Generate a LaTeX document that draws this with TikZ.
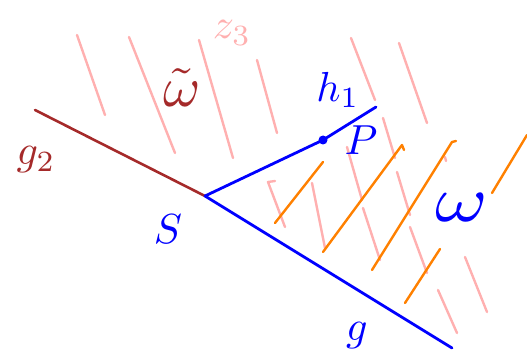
\documentclass[tikz,border=0pt]{standalone}
\begin{document}
\begin{tikzpicture}[x=1pt,y=-1pt,
  brn/.style={draw=brownred,line width=2.6pt,line cap=round,line join=round},
  blu/.style={draw=blue,line width=2.8pt,line cap=round,line join=round},
  pnk/.style={draw=pinkh,line width=2.4pt,line cap=round,line join=round},
  org/.style={draw=orangeh,line width=2.4pt,line cap=round,line join=round},
  lbl/.style={inner sep=0pt,scale=4.2,transform shape}]
\definecolor{brownred}{HTML}{A52A2A}
\definecolor{pinkh}{HTML}{FFB0B0}
\definecolor{orangeh}{HTML}{FF8000}
\useasboundingbox (0,0) rectangle (527,355);
% pink hatching
\coordinate (p1a) at (77,35);   \coordinate (p1b) at (105,115);
\coordinate (p2a) at (129,37);  \coordinate (p2b) at (175,153);
\coordinate (p3a) at (199,40);  \coordinate (p3b) at (233,158);
\coordinate (p4a) at (257,60);  \coordinate (p4b) at (277,133);
\coordinate (p5a) at (351,38);  \coordinate (p5b) at (375,100);
\coordinate (p6a) at (399,43);  \coordinate (p6b) at (427,123);
\coordinate (p7h) at (275,181); \coordinate (p7a) at (268,182); \coordinate (p7b) at (285,227);
\coordinate (p8a) at (312,183); \coordinate (p8b) at (325,248);
\coordinate (p9a) at (347,147); \coordinate (p9b) at (362,200);
\coordinate (p10a) at (363,208); \coordinate (p10b) at (380,260);
\coordinate (p11a) at (383,118); \coordinate (p11b) at (395,158);
\coordinate (p12a) at (397,172); \coordinate (p12b) at (410,215);
\coordinate (p13a) at (410,227); \coordinate (p13b) at (427,273);
\coordinate (p14a) at (438,290); \coordinate (p14b) at (457,333);
\coordinate (p15a) at (465,257); \coordinate (p15b) at (487,312);
\coordinate (p16a) at (445,157); \coordinate (p16b) at (446,161);
\draw[pnk] (p1a) -- (p1b);
\draw[pnk] (p2a) -- (p2b);
\draw[pnk] (p3a) -- (p3b);
\draw[pnk] (p4a) -- (p4b);
\draw[pnk] (p5a) -- (p5b);
\draw[pnk] (p6a) -- (p6b);
\draw[pnk] (p7h) -- (p7a) -- (p7b);
\draw[pnk] (p8a) -- (p8b);
\draw[pnk] (p9a) -- (p9b);
\draw[pnk] (p10a) -- (p10b);
\draw[pnk] (p11a) -- (p11b);
\draw[pnk] (p12a) -- (p12b);
\draw[pnk] (p13a) -- (p13b);
\draw[pnk] (p14a) -- (p14b);
\draw[pnk] (p15a) -- (p15b);
\draw[pnk] (p16a) -- (p16b);
% orange hatching
\coordinate (o1a) at (323,162); \coordinate (o1b) at (275,223);
\coordinate (o2h) at (404,150); \coordinate (o2a) at (402,145); \coordinate (o2b) at (323,252);
\coordinate (o3h) at (456,141); \coordinate (o3a) at (452,142); \coordinate (o3b) at (372,270);
\coordinate (o4a) at (440,249); \coordinate (o4b) at (405,303);
\coordinate (o5a) at (527,135); \coordinate (o5b) at (492,193);
\draw[org] (o1a) -- (o1b);
\draw[org] (o2h) -- (o2a) -- (o2b);
\draw[org] (o3h) -- (o3a) -- (o3b);
\draw[org] (o4a) -- (o4b);
\draw[org] (o5a) -- (o5b);
% main lines
\coordinate (S0) at (205,196);
\coordinate (g2end) at (35,110);
\coordinate (hmid) at (323,140);
\coordinate (h1end) at (376,107);
\coordinate (gend) at (452,348);
\draw[brn] (S0) -- (g2end);
\draw[blu] (S0) -- (hmid) -- (h1end);
\draw[blu] (S0) -- (gend);
\node[circle,fill=blue,inner sep=0pt,minimum size=9pt] (Pdot) at (hmid) {};
% labels
\node[lbl,text=brownred] (lg2) at (36,160) {$g_2$};
\node[lbl,text=brownred,scale=1.35] (lwt) at (182,88) {$\tilde\omega$};
\node[lbl,text=pinkh] (lz3) at (232,33) {$z_3$};
\node[lbl,text=blue] (lh1) at (338,90) {$h_1$};
\node[lbl,text=blue] (lP) at (361,140) {$P$};
\node[lbl,text=blue] (lS) at (168,229) {$S$};
\node[inner sep=0pt,text=blue,xscale=8,yscale=6.5,transform shape] (lw) at (462,208) {$\omega$};
\node[lbl,text=blue] (lg) at (357,336) {$g$};
\end{tikzpicture}
\end{document}
